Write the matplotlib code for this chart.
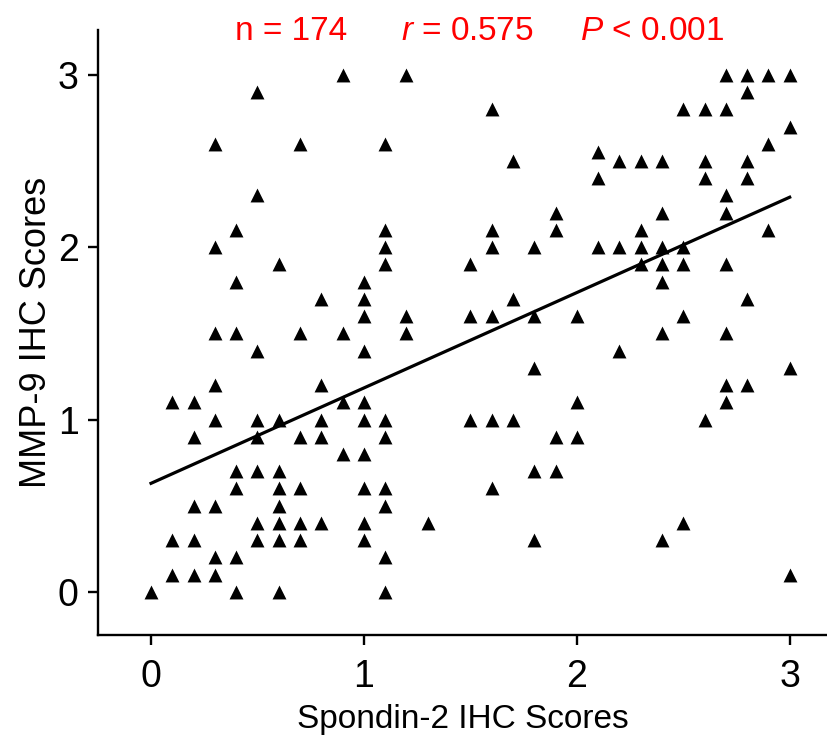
import matplotlib
matplotlib.use("Agg")
import matplotlib.pyplot as plt
import numpy as np

# --------------------------------
# Data
# --------------------------------
spondin_x = [0.0, 0.1, 0.2, 0.3, 0.4, 0.5, 0.6, 0.7, 0.8, 0.9,
             1.0, 1.1, 1.2, 1.3, 1.5, 1.6, 1.7, 1.8, 1.9, 2.0,
             2.1, 2.2, 2.3, 2.4, 2.5, 2.6, 2.7, 2.8, 2.9, 3.0]
mmp9_by_x = [
    [0.0],
    [1.1, 0.3, 0.1],
    [1.1, 0.9, 0.5, 0.3, 0.1],
    [2.6, 2.0, 1.5, 1.2, 1.0, 0.5, 0.2, 0.1],
    [2.1, 1.8, 1.5, 0.7, 0.6, 0.2, 0.0],
    [2.9, 2.3, 1.4, 1.0, 0.9, 0.7, 0.4, 0.3],
    [1.9, 1.0, 0.7, 0.6, 0.5, 0.4, 0.3, 0.0],
    [2.6, 1.5, 0.9, 0.6, 0.4, 0.3],
    [1.7, 1.2, 1.0, 0.9, 0.4],
    [3.0, 1.5, 1.1, 0.8],
    [1.8, 1.7, 1.6, 1.4, 1.1, 1.0, 0.8, 0.6, 0.4, 0.3],
    [2.6, 2.1, 2.0, 1.9, 1.0, 0.9, 0.6, 0.5, 0.2, 0.0],
    [3.0, 1.6, 1.5],
    [0.4],
    [1.9, 1.6, 1.0],
    [2.8, 2.1, 2.0, 1.6, 1.0, 0.6],
    [2.5, 1.7, 1.0],
    [2.0, 1.6, 1.3, 0.7, 0.3],
    [2.2, 2.1, 0.9, 0.7],
    [1.6, 1.1, 0.9],
    [2.55, 2.4, 2.0],
    [2.5, 2.0, 1.4],
    [2.5, 2.1, 2.0, 1.9],
    [2.5, 2.2, 2.0, 1.9, 1.8, 1.5, 0.3],
    [2.8, 2.0, 1.9, 1.6, 0.4],
    [2.8, 2.5, 2.4, 1.0],
    [3.0, 2.8, 2.3, 2.2, 1.9, 1.5, 1.2, 1.1],
    [3.0, 2.9, 2.5, 2.4, 1.7, 1.2],
    [3.0, 2.6, 2.1],
    [3.0, 2.7, 1.3, 0.1],
]

fit_x = [0.0, 3.0]
fit_y = [0.63, 2.29]

ticks = [0, 1, 2, 3]
stats_text = ["n = 174", r"$\it{r}$ = 0.575", r"$\it{P}$ < 0.001"]

# --------------------------------
# Fonts
# --------------------------------
font = ["Liberation Sans Narrow", "Liberation Sans", "DejaVu Sans"]
plt.rcParams["font.family"] = font
plt.rcParams["mathtext.fontset"] = "custom"
plt.rcParams["mathtext.rm"] = "Liberation Sans"
plt.rcParams["mathtext.it"] = "Liberation Sans:italic"

# --------------------------------
# Plot
# --------------------------------
xs, ys = [], []
for x, col in zip(spondin_x, mmp9_by_x):
    xs += [x] * len(col)
    ys += col

fig = plt.figure(figsize=(8.28, 7.38), dpi=100)
ax = fig.add_axes([0.1184, 0.1396, 0.8816, 0.8197])

ax.scatter(xs, ys, marker="^", s=100, color="black", linewidths=0, zorder=3)
ax.plot(fit_x, fit_y, color="black", lw=2.3, zorder=2)

ax.set_xlim(-0.249, 3.18)
ax.set_ylim(-0.25, 3.26)
ax.set_xticks(ticks)
ax.set_yticks(ticks)

for side in ["top", "right"]:
    ax.spines[side].set_visible(False)
for side in ["left", "bottom"]:
    ax.spines[side].set_linewidth(1.7)

ax.tick_params(direction="out", length=7, width=1.7, labelsize=27)
ax.tick_params(axis="x", pad=10)
ax.tick_params(axis="y", pad=7)
ax.set_xlabel("Spondin-2 IHC Scores", fontsize=24, labelpad=7)
ax.set_ylabel("MMP-9 IHC Scores", fontsize=26, labelpad=3)

for cx, txt in zip([291 / 828, 467 / 828, 652 / 828], stats_text):
    fig.text(cx, 1 - 32 / 738, txt, color="red", fontsize=24,
             ha="center", va="center")

fig.savefig("out.png", dpi=100)
